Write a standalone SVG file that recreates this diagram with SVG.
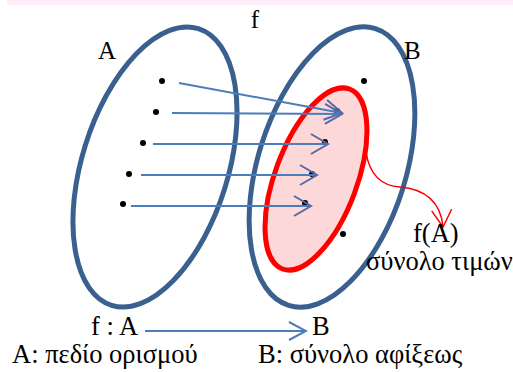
<svg xmlns="http://www.w3.org/2000/svg" width="513" height="372" viewBox="0 0 513 372">
<defs>
<style>
.set{fill:none;stroke:#3a6090;stroke-width:5}
.img{fill:#fdd8d8;stroke:#ff0000;stroke-width:5}
.dot{fill:#000}
.arr{fill:none;stroke:#4a7ebb;stroke-width:2}
.red{fill:none;stroke:#ff0000;stroke-width:1.5}
text{font-family:"Liberation Serif","Times New Roman",serif;fill:#000}
</style>
<marker id="ah" viewBox="0 0 20 22" refX="18" refY="11" markerWidth="20" markerHeight="22" markerUnits="userSpaceOnUse" orient="auto">
<path d="M1,1 L18,11 L1,21" fill="none" stroke="#5868a8" stroke-width="2"/>
</marker>
<marker id="ahb" viewBox="0 0 20 22" refX="18" refY="11" markerWidth="20" markerHeight="22" markerUnits="userSpaceOnUse" orient="auto">
<path d="M1,2 L18,11 L1,20" fill="none" stroke="#4a7ebb" stroke-width="2"/>
</marker>
<marker id="ahr" viewBox="0 0 20 22" refX="18" refY="11" markerWidth="20" markerHeight="22" markerUnits="userSpaceOnUse" orient="auto">
<path d="M1,1 L18,11 L1,21" fill="none" stroke="#ff0000" stroke-width="1.5"/>
</marker>
</defs>
<rect x="7" y="0" width="506" height="5" fill="#fdeefa"/>
<g id="setA">
<ellipse class="set" cx="155" cy="167" rx="73" ry="145" transform="rotate(17.4 155 167)"/>
<text x="98" y="59" font-size="25">A</text>
<circle class="dot" cx="162" cy="81" r="3"/>
<circle class="dot" cx="156" cy="112" r="3"/>
<circle class="dot" cx="143" cy="143" r="3"/>
<circle class="dot" cx="129" cy="174" r="3"/>
<circle class="dot" cx="123" cy="204" r="3"/>
</g>
<g id="setB">
<ellipse class="set" cx="332" cy="167" rx="74" ry="145" transform="rotate(17.4 332 167)"/>
<text x="404" y="59" font-size="25">B</text>
<circle class="dot" cx="364" cy="81" r="3"/>
<circle class="dot" cx="343" cy="234" r="3"/>
</g>
<g id="range">
<ellipse class="img" cx="316" cy="179" rx="41" ry="96" transform="rotate(20.4 316 179)"/>
<circle class="dot" cx="337" cy="111" r="3"/>
<circle class="dot" cx="325" cy="142" r="3"/>
<circle class="dot" cx="312" cy="174" r="3"/>
<circle class="dot" cx="305" cy="203" r="3"/>
</g>
<g id="connectors">
<line class="arr" x1="179" y1="83" x2="342" y2="113" marker-end="url(#ah)"/>
<line class="arr" x1="172" y1="113" x2="342" y2="114" marker-end="url(#ah)"/>
<line class="arr" x1="153" y1="144" x2="328" y2="144" marker-end="url(#ah)"/>
<line class="arr" x1="141" y1="175" x2="317" y2="175" marker-end="url(#ah)"/>
<line class="arr" x1="131" y1="206" x2="311" y2="206" marker-end="url(#ah)"/>
<path class="red" d="M366,152 C370,178 384,186 400,187 C425,189 441,202 443,227" marker-end="url(#ahr)"/>
<line class="arr" x1="145" y1="331" x2="306" y2="331" marker-end="url(#ahb)"/>
</g>
<g id="labels">
<text x="255" y="28" font-size="25" text-anchor="middle">f</text>
<text x="413" y="242" font-size="26.5">f(A)</text>
<text x="366" y="270" font-size="26.5">σύνολο τιμών</text>
<text x="91" y="335" font-size="26.5">f : A</text>
<text x="312" y="335" font-size="26.5">B</text>
<text x="12" y="363" font-size="26.5">A: πεδίο ορισμού</text>
<text x="258" y="363" font-size="26.5">B: σύνολο αφίξεως</text>
</g>
</svg>
